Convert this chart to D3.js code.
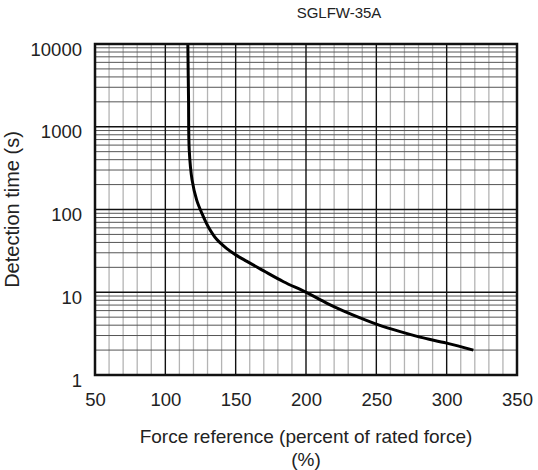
<!DOCTYPE html>
<html>
<head>
<meta charset="utf-8">
<title>SGLFW-35A overload detection</title>
<script src="https://cdn.jsdelivr.net/npm/d3@7"></script>
<style>
	body { margin: 0; background: #fff; }
	svg text { font-family: 'Liberation Sans', Arial, sans-serif; fill: #222; }
</style>
</head>
<body>
<script>
'use strict';

// values (force in %, detection time in s)
var forceValues = [116, 116.5, 117, 119, 122.3, 126, 130.5, 136.5, 143.5, 150, 158, 170, 184, 200.5, 215, 226.5, 238.5, 250.5, 267, 281, 300, 319],
	timeValues = [10000, 2100, 520, 228, 130, 90, 62, 43.6, 33.9, 28.3, 23.6, 18.1, 13.4, 9.9, 7.35, 5.96, 4.9, 4.1, 3.34, 2.87, 2.43, 2.0],

	xTicks = [50, 100, 150, 200, 250, 300, 350],
	yTicks = [1, 10, 100, 1000, 10000],

	chartTitle = 'SGLFW-35A',
	xTitle = ['Force reference (percent of rated force)', '(%)'],
	yTitle = 'Detection time (s)';

var margin = {top: 44, right: 21, bottom: 95, left: 95},
	width = 538 - margin.left - margin.right,
	height = 470 - margin.top - margin.bottom,

	x = d3.scaleLinear().domain([50, 350]).range([0, width]),
	y = d3.scaleLog().domain([1, 10000]).range([height, 0]),

	// centripetal catmull-rom keeps the knee round without overshoot
	line = d3.line().curve(d3.curveCatmullRom.alpha(0.5))
		.x(function(d) { return x(d.x); })
		.y(function(d) { return y(d.y); });

var svg = d3.select('body').append('svg')
	.attr('width', 538)
	.attr('height', 470);

var g = svg.append('g')
	.attr('transform', 'translate(' + margin.left + ',' + margin.top + ')');

drawGrid();
drawCurve();
drawAxes();
drawTitles();

/*
* Grid: light minor lines every 10 %, black every 50 %, full log grid in y.
*/
function drawGrid() {
	var minorX = d3.range(50, 351, 10).filter(function(v) { return v % 50 != 0; });

	g.selectAll('.minor-x')
		.data(minorX).enter()
		.append('line')
			.attr('x1', function(d) { return x(d); })
			.attr('x2', function(d) { return x(d); })
			.attr('y1', 0)
			.attr('y2', height)
			.attr('stroke', '#b4b4b4')
			.attr('stroke-width', 1.3);

	// every 1..9 step of each decade
	var logLines = [];
	yTicks.slice(0, -1).forEach(function(dec) {
		for (var k = 1; k < 10; k++) logLines.push(dec * k);
	});

	g.selectAll('.grid-y')
		.data(logLines).enter()
		.append('line')
			.attr('x1', 0)
			.attr('x2', width)
			.attr('y1', function(d) { return y(d); })
			.attr('y2', function(d) { return y(d); })
			.attr('stroke', function(d) { return yTicks.includes(d) ? '#111' : '#555'; })
			.attr('stroke-width', function(d) { return yTicks.includes(d) ? 1.3 : 1; });

	g.selectAll('.major-x')
		.data(xTicks).enter()
		.append('line')
			.attr('x1', function(d) { return x(d); })
			.attr('x2', function(d) { return x(d); })
			.attr('y1', 0)
			.attr('y2', height)
			.attr('stroke', '#111')
			.attr('stroke-width', 1.4);
}

function drawCurve() {
	var pts = forceValues.map(function(f, i) { return {x: f, y: timeValues[i]}; });

	g.append('path')
		.datum(pts)
		.attr('fill', 'none')
		.attr('stroke', '#000')
		.attr('stroke-width', 3)
		.attr('stroke-linejoin', 'round')
		.attr('d', line);

	// frame on top
	g.append('rect')
		.attr('width', width)
		.attr('height', height)
		.attr('fill', 'none')
		.attr('stroke', '#111')
		.attr('stroke-width', 2.5);
}

function drawAxes() {
	var xAxis = g.append('g')
		.attr('transform', 'translate(0,' + height + ')')
		.call(d3.axisBottom(x).tickValues(xTicks).tickSize(0).tickPadding(18));

	var yAxis = g.append('g')
		.call(d3.axisLeft(y).tickValues(yTicks).tickFormat(d3.format('d')).tickSize(0).tickPadding(13));

	[xAxis, yAxis].forEach(function(a) {
		a.select('.domain').remove();
		a.selectAll('text')
			.attr('font-size', 18.5)
			.attr('font-family', null);
	});

	// tick labels sit a little under their lines in the original
	yAxis.selectAll('text').attr('dy', '0.6em');
}

function drawTitles() {
	svg.append('text')
		.attr('x', 339)
		.attr('y', 18)
		.attr('text-anchor', 'middle')
		.attr('font-size', 15)
		.text(chartTitle);

	svg.selectAll('.x-title')
		.data(xTitle).enter()
		.append('text')
			.attr('x', margin.left + width / 2)
			.attr('y', function(d, i) { return 443 + i * 23; })
			.attr('text-anchor', 'middle')
			.attr('font-size', 19)
			.text(function(d) { return d; });

	svg.append('text')
		.attr('transform', 'translate(19,' + (margin.top + height / 2) + ') rotate(-90)')
		.attr('text-anchor', 'middle')
		.attr('font-size', 20)
		.text(yTitle);
}
</script>
</body>
</html>
